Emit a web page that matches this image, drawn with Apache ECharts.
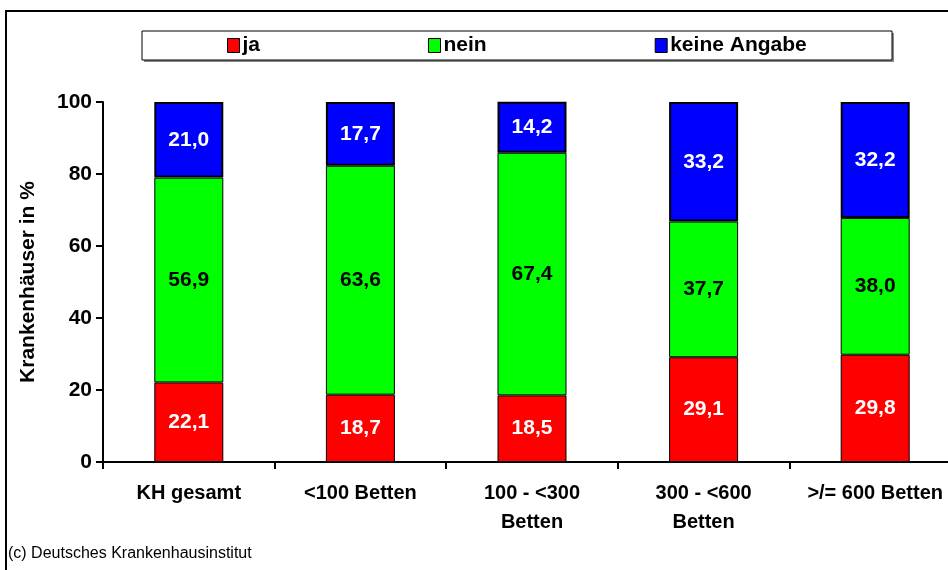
<!DOCTYPE html>
<html>
<head>
<meta charset="utf-8">
<script src="https://cdn.jsdelivr.net/npm/echarts@6/dist/echarts.min.js"></script>
<style>
  html, body { margin: 0; padding: 0; background: #fff; }
  #chart { width: 948px; height: 570px; }
</style>
</head>
<body>
<div id="chart"></div>
<script>
// Krankenhaus-Größenklassen
const categories = ['KH gesamt', '<100 Betten', '100 - <300\nBetten', '300 - <600\nBetten', '>/= 600 Betten'];
// Anteile in %
const jaValues = [22.1, 18.7, 18.5, 29.1, 29.8];
const neinValues = [56.9, 63.6, 67.4, 37.7, 38.0];
const keineAngabeValues = [21.0, 17.7, 14.2, 33.2, 32.2];
const yTicks = [0, 20, 40, 60, 80, 100];

const FONT = 'Liberation Sans, Arial, sans-serif';
const fmt = p => p.value.toFixed(1).replace('.', ',');

function segment(name, data, color, textColor, borderWidth) {
  return {
    name: name,
    type: 'bar',
    stack: 'total',
    data: data,
    barWidth: 69,
    itemStyle: { color: color, borderColor: '#000', borderWidth: borderWidth },
    label: {
      show: true,
      position: 'inside',
      formatter: fmt,
      color: textColor,
      fontFamily: FONT,
      fontWeight: 'bold',
      fontSize: 21
    },
    emphasis: { disabled: true }
  };
}

const chart = echarts.init(document.getElementById('chart'), null, { renderer: 'canvas' });
chart.setOption({
  animation: false,
  backgroundColor: '#fff',
  graphic: [
    // Rahmen
    { type: 'rect', shape: { x: 6, y: 11, width: 1000, height: 600 },
      style: { fill: 'none', stroke: '#000', lineWidth: 2 }, z: 0 },
    // Legendenkasten mit Schatten
    { type: 'rect', shape: { x: 144, y: 33, width: 750, height: 29 },
      style: { fill: '#888', stroke: 'none' }, z: 0 },
    { type: 'rect', shape: { x: 142, y: 31, width: 750, height: 29 },
      style: { fill: '#fff', stroke: '#000', lineWidth: 1 }, z: 1 },
    { type: 'text', left: 8, top: 546,
      style: { text: '(c) Deutsches Krankenhausinstitut', fill: '#000',
               font: '16px ' + FONT }, z: 5 }
  ],
  legend: {
    left: 222,
    top: 30,
    itemWidth: 12,
    itemHeight: 14,
    itemGap: 168,
    icon: 'rect',
    selectedMode: false,
    z: 10,
    textStyle: { fontFamily: FONT, fontWeight: 'bold', fontSize: 21, color: '#000', padding: [0, 0, 0, -2] },
    itemStyle: { borderColor: '#000', borderWidth: 1 },
    data: ['ja', 'nein', 'keine Angabe']
  },
  grid: { left: 103, top: 102, width: 858, height: 360, containLabel: false, outerBoundsMode: 'none' },
  xAxis: {
    type: 'category',
    data: categories,
    axisLine: { lineStyle: { color: '#000', width: 2 } },
    axisTick: { show: true, length: 7, lineStyle: { color: '#000', width: 2 } },
    axisLabel: {
      fontFamily: FONT, fontWeight: 'bold', fontSize: 20, color: '#000',
      margin: 17, lineHeight: 29, interval: 0
    }
  },
  yAxis: {
    type: 'value',
    min: 0,
    max: 100,
    interval: 20,
    name: 'Krankenhäuser in %',
    nameLocation: 'middle',
    nameGap: 64,
    nameRotate: 90,
    nameTextStyle: { fontFamily: FONT, fontWeight: 'bold', fontSize: 21, color: '#000' },
    axisLine: { show: true, lineStyle: { color: '#000', width: 2 } },
    axisTick: { show: true, length: 7, lineStyle: { color: '#000', width: 2 } },
    splitLine: { show: false },
    axisLabel: {
      fontFamily: FONT, fontWeight: 'bold', fontSize: 21, color: '#000', margin: 11,
      formatter: v => (yTicks.includes(v) ? String(v) : '')
    }
  },
  series: [
    segment('ja', jaValues, '#ff0000', '#fff', 1),
    segment('nein', neinValues, '#00ff00', '#000', 1),
    segment('keine Angabe', keineAngabeValues, '#0000ff', '#fff', 2)
  ]
});
</script>
</body>
</html>
